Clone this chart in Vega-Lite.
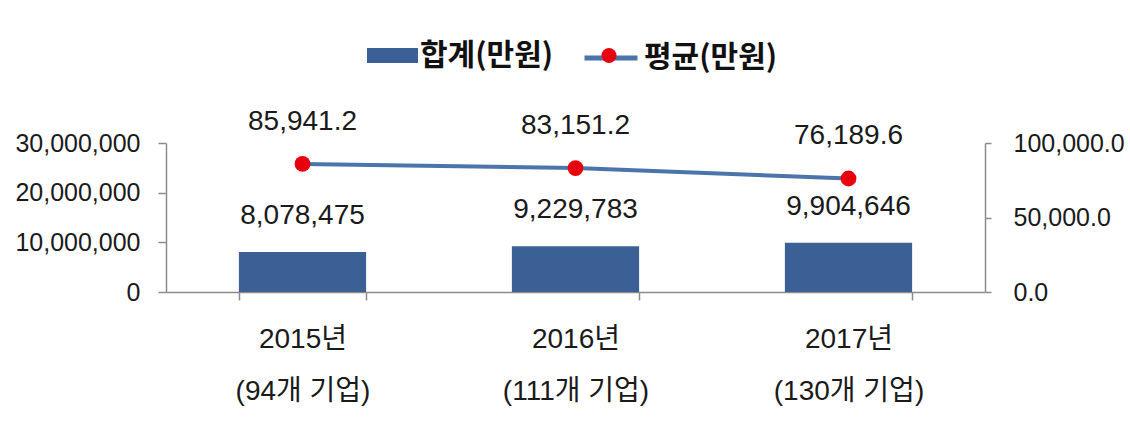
{
  "$schema": "https://vega.github.io/schema/vega-lite/v6.json",
  "width": 819,
  "height": 149,
  "padding": {"left": 14, "right": 11, "top": 29, "bottom": 10},
  "background": "white",
  "data": {
    "values": [
      {"category": "2015년 (94개 기업)", "total": 8078475, "avg": 85941.2},
      {"category": "2016년 (111개 기업)", "total": 9229783, "avg": 83151.2},
      {"category": "2017년 (130개 기업)", "total": 9904646, "avg": 76189.6}
    ]
  },
  "encoding": {
    "x": {
      "field": "category",
      "type": "nominal",
      "sort": null,
      "title": null,
      "scale": {"paddingInner": 0.534, "paddingOuter": 0.267},
      "axis": {
        "labelAngle": 0,
        "labelExpr": "[slice(datum.label,0,5), slice(datum.label,6)]",
        "labelFont": "Liberation Sans, Noto Sans CJK KR",
        "labelFontSize": 28,
        "labelLineHeight": 52,
        "labelColor": "#1a1a1a",
        "labelPadding": 25,
        "labelBaseline": "top",
        "tickBand": "extent",
        "tickSize": 8,
        "tickColor": "#8c8c8c",
        "domainColor": "#8c8c8c",
        "grid": false
      }
    }
  },
  "layer": [
    {
      "encoding": {
        "y": {
          "field": "total",
          "type": "quantitative",
          "title": null,
          "scale": {"domain": [0, 30000000], "nice": false},
          "axis": {
            "orient": "left",
            "values": [0, 10000000, 20000000, 30000000],
            "format": ",d",
            "grid": false,
            "labelFont": "Liberation Sans",
            "labelFontSize": 25,
            "labelColor": "#1a1a1a",
            "labelPadding": 18,
            "tickSize": 8,
            "tickColor": "#8c8c8c",
            "domainColor": "#8c8c8c"
          }
        }
      },
      "layer": [
        {
          "mark": {"type": "bar"},
          "encoding": {
            "color": {
              "datum": "합계(만원)",
              "scale": {"domain": ["합계(만원)"], "range": ["#3A6095"]},
              "legend": {
                "orient": "none",
                "legendX": 201,
                "legendY": -113,
                "title": null,
                "symbolType": "M-1,-0.294H1V0.294H-1Z",
                "symbolSize": 2601,
                "symbolStrokeWidth": 0,
                "labelOffset": 2,
                "labelFont": "Noto Sans CJK KR",
                "labelFontSize": 30,
                "labelFontWeight": "bold",
                "labelColor": "#111111",
                "padding": 0
              }
            }
          }
        },
        {
          "mark": {"type": "text", "dy": -36, "baseline": "middle", "font": "Liberation Sans", "fontSize": 28, "color": "#1a1a1a"},
          "encoding": {"text": {"field": "total", "type": "quantitative", "format": ",d"}}
        }
      ]
    },
    {
      "encoding": {
        "y": {
          "field": "avg",
          "type": "quantitative",
          "title": null,
          "scale": {"domain": [0, 100000], "nice": false},
          "axis": {
            "orient": "right",
            "values": [0, 50000, 100000],
            "format": ",.1f",
            "grid": false,
            "labelFont": "Liberation Sans",
            "labelFontSize": 25,
            "labelColor": "#1a1a1a",
            "labelPadding": 22,
            "tickSize": 6,
            "tickColor": "#8c8c8c",
            "domainColor": "#8c8c8c"
          }
        }
      },
      "layer": [
        {
          "mark": {"type": "line", "strokeWidth": 4},
          "encoding": {
            "stroke": {
              "datum": "평균(만원)",
              "scale": {"domain": ["평균(만원)"], "range": ["#4A74AA"]},
              "legend": {
                "orient": "none",
                "legendX": 416,
                "legendY": -114,
                "title": null,
                "symbolType": "stroke",
                "symbolSize": 2809,
                "symbolStrokeWidth": 5,
                "labelOffset": 4,
                "labelFont": "Noto Sans CJK KR",
                "labelFontSize": 30,
                "labelFontWeight": "bold",
                "labelColor": "#111111",
                "padding": 0
              }
            }
          }
        },
        {
          "mark": {"type": "point", "filled": true, "size": 250, "opacity": 1, "color": "#E8000F"},
          "encoding": {
            "shape": {
              "datum": "평균점",
              "scale": {"domain": ["평균점"], "range": ["circle"]},
              "legend": {
                "orient": "none",
                "legendX": 435.5,
                "legendY": -95,
                "title": null,
                "symbolSize": 225,
                "symbolFillColor": "#E8000F",
                "symbolStrokeWidth": 0,
                "symbolOpacity": 1,
                "labelExpr": "''",
                "labelFontSize": 12,
                "labelOffset": 0,
                "padding": 0
              }
            }
          }
        },
        {
          "mark": {"type": "text", "dy": -42, "baseline": "middle", "font": "Liberation Sans", "fontSize": 28, "color": "#1a1a1a"},
          "encoding": {"text": {"field": "avg", "type": "quantitative", "format": ",.1f"}}
        }
      ]
    }
  ],
  "resolve": {"scale": {"y": "independent"}},
  "config": {
    "view": {"stroke": null},
    "axis": {"domainWidth": 1.5, "tickWidth": 1.5}
  }
}
